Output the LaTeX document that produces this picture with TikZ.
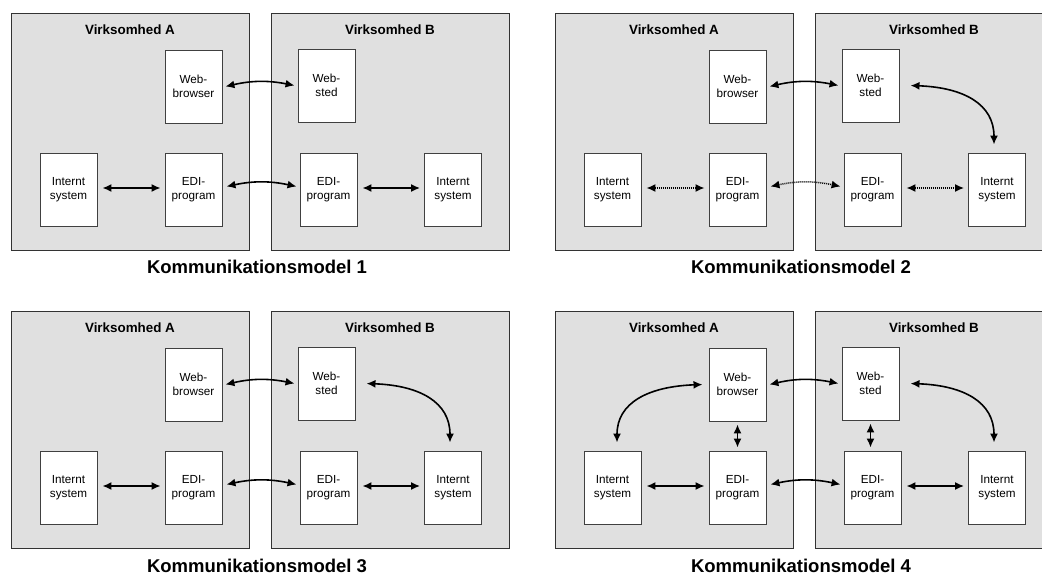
\documentclass[tikz,border=0pt]{standalone}
\usepackage{fontspec}
\setmainfont{Liberation Sans}
\usetikzlibrary{arrows.meta,calc}
\tikzset{
  orgbox/.style={draw=black!80, fill=black!12, line width=0.9pt, inner sep=0pt},
  appbox/.style={draw=black!75, fill=white, line width=0.9pt, inner sep=0pt,
    minimum width=57, minimum height=73, align=center,
    font=\fontsize{11.7}{13.7}\selectfont},
  orgtitle/.style={font=\bfseries\fontsize{13.4}{15}\selectfont, inner sep=0pt, anchor=base},
  modelcap/.style={font=\bfseries\fontsize{18.5}{21}\selectfont, inner sep=0pt, anchor=base},
  conn/.style={line width=1.6pt, <->},
  dotconn/.style={conn, line width=1.5pt, dash pattern=on 1pt off 1pt},
}
\newcommand\mkpanel[4]{%
  \begin{scope}[shift={(#2,#3)}]
    \node[orgbox, minimum width=238, minimum height=237] (#1A) at (130,131.5) {};
    \node[orgbox, minimum width=238, minimum height=237] (#1B) at (390,131.5) {};
    \node[orgtitle] (#1tA) at (130,35) {Virksomhed A};
    \node[orgtitle] (#1tB) at (390,35) {Virksomhed B};
    \node[appbox] (#1wb) at (193.5,86.5) {Web-\\browser};
    \node[appbox] (#1ws) at (326.5,85.5) {Web-\\sted};
    \node[appbox] (#1ia) at (68.5,189.5) {Internt\\system};
    \node[appbox] (#1ea) at (193.5,189.5) {EDI-\\program};
    \node[appbox] (#1eb) at (328.5,189.5) {EDI-\\program};
    \node[appbox] (#1ib) at (453,189.5) {Internt\\system};
    \node[modelcap] (#1cap) at (257,274) {#4};
  \end{scope}}
\begin{document}
\begin{tikzpicture}[x=1pt,y=-1pt,>={Latex[length=9pt,width=8pt]}]
\path[use as bounding box] (0,0) rectangle (1042,577);
\clip (0,0) rectangle (1042,577);
\fill[white] (0,0) rectangle (1042,577);

\mkpanel{p1}{0}{0}{Kommunikationsmodel 1}
\mkpanel{p2}{544}{0}{Kommunikationsmodel 2}
\mkpanel{p3}{0}{298}{Kommunikationsmodel 3}
\mkpanel{p4}{544}{298}{Kommunikationsmodel 4}

% panel 1
\draw[conn] ([xshift=3pt]p1wb.east) to[bend left=12] ([xshift=-3pt]p1ws.west);
\draw[conn] ([xshift=4pt,yshift=3pt]p1ea.east) to[bend left=12] ([xshift=-3pt,yshift=3pt]p1eb.west);
\draw[conn] ([xshift=5pt,yshift=1.5pt]p1ia.east) -- ([xshift=-4pt,yshift=1.5pt]p1ea.west);
\draw[conn] ([xshift=5pt,yshift=1.5pt]p1eb.east) -- ([xshift=-4pt,yshift=1.5pt]p1ib.west);

% panel 2
\draw[conn] ([xshift=3pt]p2wb.east) to[bend left=12] ([xshift=-3pt]p2ws.west);
\draw[dotconn] ([xshift=4pt,yshift=3pt]p2ea.east) to[bend left=12] ([xshift=-3pt,yshift=3pt]p2eb.west);
\draw[dotconn] ([xshift=5pt,yshift=1.5pt]p2ia.east) -- ([xshift=-4pt,yshift=1.5pt]p2ea.west);
\draw[dotconn] ([xshift=5pt,yshift=1.5pt]p2eb.east) -- ([xshift=-4pt,yshift=1.5pt]p2ib.west);
\draw[conn] ([xshift=11pt]p2ws.east) .. controls +(54,2) and +(0,-40) .. ([xshift=-3pt,yshift=8pt]p2ib.north);

% panel 3
\draw[conn] ([xshift=3pt]p3wb.east) to[bend left=12] ([xshift=-3pt]p3ws.west);
\draw[conn] ([xshift=4pt,yshift=3pt]p3ea.east) to[bend left=12] ([xshift=-3pt,yshift=3pt]p3eb.west);
\draw[conn] ([xshift=5pt,yshift=1.5pt]p3ia.east) -- ([xshift=-4pt,yshift=1.5pt]p3ea.west);
\draw[conn] ([xshift=5pt,yshift=1.5pt]p3eb.east) -- ([xshift=-4pt,yshift=1.5pt]p3ib.west);
\draw[conn] ([xshift=11pt]p3ws.east) .. controls +(54,2) and +(0,-40) .. ([xshift=-3pt,yshift=8pt]p3ib.north);

% panel 4
\draw[conn] ([xshift=3pt]p4wb.east) to[bend left=12] ([xshift=-3pt]p4ws.west);
\draw[conn] ([xshift=4pt,yshift=3pt]p4ea.east) to[bend left=12] ([xshift=-3pt,yshift=3pt]p4eb.west);
\draw[conn] ([xshift=5pt,yshift=1.5pt]p4ia.east) -- ([xshift=-4pt,yshift=1.5pt]p4ea.west);
\draw[conn] ([xshift=5pt,yshift=1.5pt]p4eb.east) -- ([xshift=-4pt,yshift=1.5pt]p4ib.west);
\draw[conn] ([xshift=11pt]p4ws.east) .. controls +(54,2) and +(0,-40) .. ([xshift=-3pt,yshift=8pt]p4ib.north);
\draw[conn] ([xshift=-6pt]p4wb.west) .. controls +(-54,2) and +(0,-40) .. ([xshift=4.5pt,yshift=8pt]p4ia.north);
\draw[conn] ([yshift=-3pt]p4wb.south) -- ([yshift=3pt]p4ea.north);
\draw[conn] ([yshift=-3pt]p4ws.south) -- ($(p4ws.south |- p4eb.north)+(0,-3)$);
\end{tikzpicture}
\end{document}
